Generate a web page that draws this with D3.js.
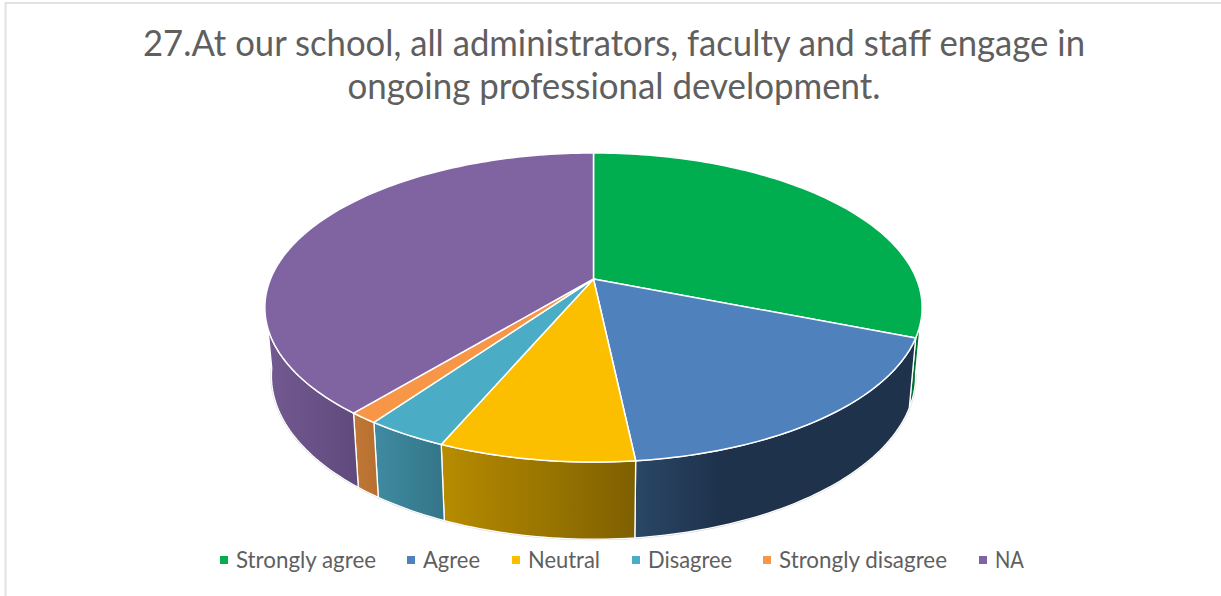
<!DOCTYPE html>
<html><head><meta charset="utf-8">
<style>html,body{margin:0;padding:0;background:#fff;overflow:hidden}svg{display:block}text{font-family:Lato,"Open Sans",sans-serif}</style>
<script src="https://cdn.jsdelivr.net/npm/d3@7"></script>
</head><body>
<svg id="c" width="1221" height="596"></svg>
<script>
const titleLines = ["27.At our school, all administrators, faculty and staff engage in","ongoing professional development."];
const categories = ["Strongly agree","Agree","Neutral","Disagree","Strongly disagree","NA"];
const values = [31,17.3,8.1,3.4,1.2,39];
const topColors = ["#00AE4F","#4F81BD","#FBBF00","#4BACC6","#F79646","#8064A2"];
const sideStart = ["#007a38","#2a4766","#b78c00","#3f8ba2","#c27836","#735a92"];
const sideEnd   = ["#00632c","#1e324c","#7f6000","#347587","#b56f30","#604a7c"];
const legendSwatchX = [224,411,516,636,767,983];
const legendTextX = [236,423,528,648,779,995];
const legendTextW = [140,57,72,84,168,29];

const svg = d3.select("#c");
const defs = svg.append("defs");
categories.forEach((c,i)=>{
  const g = defs.append("linearGradient").attr("id","side"+i).attr("x1",0).attr("x2",1).attr("y1",0).attr("y2",0);
  g.append("stop").attr("offset","0").attr("stop-color",sideStart[i]);
  if(i===1) g.append("stop").attr("offset","0.3").attr("stop-color",sideEnd[i]);
  g.append("stop").attr("offset","1").attr("stop-color",sideEnd[i]);
});

// frame
svg.append("path").attr("d","M5.5,596V3H1221").attr("fill","none").attr("stroke","#e2e2e2").attr("stroke-width",2);

// title
const tw=[942,533], tx=[614,614], ty=[55.5,99];
svg.selectAll(".title").data(titleLines).join("text").attr("class","title")
  .attr("x",(d,i)=>tx[i]).attr("y",(d,i)=>ty[i]).attr("text-anchor","middle")
  .attr("font-size",36).attr("fill","#5f5f5f")
  .attr("textLength",(d,i)=>tw[i]).attr("lengthAdjust","spacingAndGlyphs").text(d=>d);

// perspective disc: unit circle -> screen
const cx=593.5, K=323, persp=-0.1845;
const yNum=d3.scaleLinear().domain([0,1]).range([279,279+97.8]);
function topPt(t){const u=Math.sin(t),v=-Math.cos(t),w=1+persp*v;return [cx+K*u/w,yNum(v)/w];}
function lowPt(t){const p=topPt(t);return [cx+(p[0]-cx)*0.98,p[1]*1.057+50.8];}
const line=d3.line();
const pie=d3.pie().sort(null).value(d=>d)(values);
function samples(a,b){const n=Math.max(2,Math.ceil((b-a)/0.02));return d3.range(n+1).map(i=>a+(b-a)*i/n);}

// visible part of the side: between the right and left silhouette angles
const silR=100*Math.PI/180, silL=262*Math.PI/180;
const sides=pie.map((s,i)=>{
  const a=Math.max(s.startAngle,silR), b=Math.min(s.endAngle,silL);
  return a<b?{i,a,b}:null;}).filter(Boolean);
// outer halo under the sides
svg.append("path").attr("d",line(samples(silR,silL).map(lowPt))).attr("fill","none").attr("stroke","#d0d0d0").attr("stroke-width",2);
svg.selectAll(".side").data(sides).join("path").attr("class","side")
  .attr("d",d=>{const ts=samples(d.a,d.b);return line(ts.map(topPt).concat(ts.slice().reverse().map(lowPt)))+"Z";})
  .attr("fill",d=>`url(#side${d.i})`).attr("stroke","#fff").attr("stroke-width",1.3).attr("stroke-linejoin","round");

// top faces
svg.selectAll(".slice").data(pie).join("path").attr("class","slice")
  .attr("d",s=>line([[cx,279]].concat(samples(s.startAngle,s.endAngle).map(topPt)))+"Z")
  .attr("fill",(s,i)=>topColors[i]).attr("stroke","#fff").attr("stroke-width",1.5).attr("stroke-linejoin","round");

// legend
const lg=svg.selectAll(".lg").data(categories).join("g").attr("class","lg");
lg.append("rect").attr("x",(d,i)=>legendSwatchX[i]-4).attr("y",556).attr("width",8).attr("height",8).attr("fill",(d,i)=>topColors[i]);
lg.append("text").attr("x",(d,i)=>legendTextX[i]).attr("y",568).attr("font-size",23).attr("fill","#5f5f5f")
  .attr("textLength",(d,i)=>legendTextW[i]).attr("lengthAdjust","spacingAndGlyphs").text(d=>d);
</script>
</body></html>
